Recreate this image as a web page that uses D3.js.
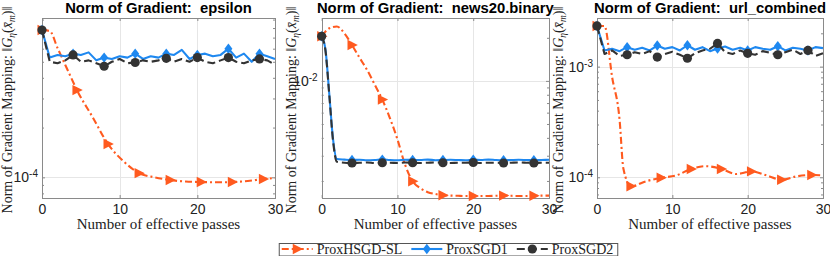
<!DOCTYPE html>
<html><head><meta charset="utf-8">
<script src="https://cdn.jsdelivr.net/npm/d3@7"></script>
<style>body{margin:0;background:#fff}svg{display:block}</style>
</head><body>
<svg id="c" width="830" height="256"></svg>
<script>
// ---------------- data ----------------
const seriesNames = ["ProxHSGD-SL", "ProxSGD1", "ProxSGD2"];
const datasetNames = ["epsilon", "news20.binary", "url_combined"];
const xTicks = [0, 10, 20, 30];

const sgdPasses = [0,1,2,3,4,5,6,7,8,9,10,11,12,13,14,15,16,17,18,19,20,21,22,23,24,25,26,27,28,29,30];
const news20SgdPasses = [0,0.5,1,1.5,2,3,4,5,6,7,8,9,10,11,12,13,14,15,16,17,18,19,20,21,22,23,24,25,26,27,28,29,30];
const hsgdPasses = [0,1,2,3,3.5,4.5,6.5,8.5,10.5,12.5,14.5,16.5,18.5,20.5,22.5,24.5,26.5,28.5,30];
const hsgdMarkPasses = [0,4.5,8.5,12.5,16.5,20.5,24.5,28.5];
const sgdMarkPasses = [0,4,8,12,16,20,24,28];

// epsilon
const epsHsgd = [7.78e-4,7.67e-4,6.06e-4,4.78e-4,4.25e-4,3.37e-4,2.32e-4,1.59e-4,1.25e-4,1.06e-4,1.0e-4,9.63e-5,9.43e-5,9.37e-5,9.33e-5,9.37e-5,9.5e-5,9.77e-5,9.9e-5];
const epsSgd1 = [7.78e-4,5.3e-4,5.5e-4,5.4e-4,5.6e-4,5.5e-4,5.7e-4,5.1e-4,5.3e-4,5.2e-4,5.4e-4,5.3e-4,5.6e-4,5.2e-4,5.4e-4,5.3e-4,5.6e-4,5.5e-4,5.9e-4,5.2e-4,5.5e-4,5.6e-4,5.4e-4,5.5e-4,6.0e-4,5.3e-4,5.6e-4,5.0e-4,5.6e-4,5.4e-4,5.2e-4];
const epsSgd2 = [7.78e-4,5.0e-4,4.9e-4,5.1e-4,5.5e-4,5.0e-4,5.1e-4,4.9e-4,4.7e-4,5.0e-4,5.2e-4,4.9e-4,4.95e-4,5.1e-4,5.0e-4,5.1e-4,5.25e-4,5.0e-4,5.2e-4,5.0e-4,5.3e-4,5.0e-4,4.9e-4,5.1e-4,5.3e-4,5.0e-4,4.9e-4,5.1e-4,5.2e-4,5.1e-4,4.8e-4];

// news20.binary
const news20Hsgd = [2.05e-2,2.33e-2,2.4e-2,2.15e-2,1.78e-2,1.45e-2,1.19e-2,9.4e-3,7.4e-3,5.5e-3,3.9e-3,2.6e-3,1.99e-3,1.78e-3,1.67e-3,1.62e-3,1.59e-3,1.58e-3,1.575e-3,1.57e-3,1.57e-3,1.57e-3,1.57e-3,1.575e-3,1.58e-3,1.575e-3,1.57e-3,1.57e-3,1.575e-3,1.58e-3,1.58e-3];
const news20Sgd1 = [2.05e-2,1.65e-2,8.1e-3,3.9e-3,2.85e-3,
  2.82e-3,2.80e-3,2.81e-3,2.79e-3,2.80e-3,2.82e-3,2.80e-3,2.79e-3,2.81e-3,2.80e-3,
  2.80e-3,2.82e-3,2.79e-3,2.80e-3,2.81e-3,2.80e-3,2.79e-3,2.81e-3,2.80e-3,2.82e-3,
  2.80e-3,2.79e-3,2.80e-3,2.81e-3,2.80e-3,2.79e-3,2.80e-3,2.81e-3];
const news20Sgd2 = [2.05e-2,1.62e-2,8.0e-3,3.8e-3,2.72e-3,
  2.68e-3,2.67e-3,2.68e-3,2.69e-3,2.67e-3,2.68e-3,2.68e-3,2.67e-3,2.69e-3,2.68e-3,
  2.67e-3,2.68e-3,2.69e-3,2.68e-3,2.67e-3,2.68e-3,2.68e-3,2.69e-3,2.67e-3,2.68e-3,
  2.68e-3,2.67e-3,2.68e-3,2.69e-3,2.68e-3,2.67e-3,2.68e-3,2.68e-3];

// url_combined
const urlHsgd = [2.33e-3,2.33e-3,8.1e-4,3.3e-4,1.2e-4,8.3e-5,9.2e-5,9.9e-5,1.04e-4,1.19e-4,1.26e-4,1.19e-4,1.07e-4,1.13e-4,1.04e-4,9.5e-5,1.02e-4,1.05e-4,1.04e-4];
const urlSgd1 = [2.33e-3,1.40e-3,1.45e-3,1.38e-3,1.50e-3,1.42e-3,1.48e-3,1.40e-3,1.55e-3,1.45e-3,1.50e-3,1.40e-3,1.56e-3,1.42e-3,1.50e-3,1.38e-3,1.46e-3,1.52e-3,1.42e-3,1.48e-3,1.40e-3,1.50e-3,1.45e-3,1.42e-3,1.53e-3,1.40e-3,1.48e-3,1.45e-3,1.40e-3,1.50e-3,1.47e-3];
const urlSgd2 = [2.33e-3,1.30e-3,1.40e-3,1.25e-3,1.28e-3,1.35e-3,1.30e-3,1.38e-3,1.22e-3,1.30e-3,1.36e-3,1.28e-3,1.19e-3,1.32e-3,1.40e-3,1.45e-3,1.62e-3,1.35e-3,1.30e-3,1.40e-3,1.32e-3,1.28e-3,1.38e-3,1.33e-3,1.28e-3,1.35e-3,1.42e-3,1.30e-3,1.40e-3,1.25e-3,1.32e-3];

const yLimits = [[7.5e-5, 9.2e-4], [1.52e-3, 2.75e-2], [6.5e-5, 2.75e-3]];
const yMajorTicks = [[1e-4], [1e-2], [1e-3, 1e-4]];

// ---------------- style / layout ----------------
const colors = ["#FF5A1F", "#1E88F0", "#333333"];
const dashes = ["7,3,2,3", null, "8,4"];
const axColor = "#8a8a8a", gridColor = "#e6e6e6", textColor = "#222";
const plotTop = 18, plotBottom = 198;
const panelX = [[42, 275], [321.7, 549], [597, 823]];
const ylabX = [12, 296, 563];
const sans = "'Liberation Sans', Arial, Helvetica, sans-serif";
const serif = "'Liberation Serif', 'Times New Roman', serif";

const panels = [
  { s: [[hsgdPasses, epsHsgd, hsgdMarkPasses], [sgdPasses, epsSgd1, sgdMarkPasses], [sgdPasses, epsSgd2, sgdMarkPasses]], smooth: [true, false, false] },
  { s: [[sgdPasses, news20Hsgd, sgdMarkPasses], [news20SgdPasses, news20Sgd1, sgdMarkPasses], [news20SgdPasses, news20Sgd2, sgdMarkPasses]], smooth: [true, true, true] },
  { s: [[hsgdPasses, urlHsgd, hsgdMarkPasses], [sgdPasses, urlSgd1, sgdMarkPasses], [sgdPasses, urlSgd2, sgdMarkPasses]], smooth: [true, false, false] }
];

const svg = d3.select("#c");

function drawMarker(sel, k) {
  if (k === 0) sel.append("path").attr("d", "M-4.5,-5.2L5.8,0L-4.5,5.2Z").attr("fill", colors[0]);
  else if (k === 1) sel.append("path").attr("d", "M0,-5.2L4,0L0,5.2L-4,0Z").attr("fill", colors[1]);
  else sel.append("circle").attr("r", 4.6).attr("fill", colors[2]);
}

function minorTicks(dom) {
  const out = [];
  const lo = Math.floor(Math.log10(dom[0])), hi = Math.ceil(Math.log10(dom[1]));
  for (let e = lo; e <= hi; e++) for (let m = 2; m <= 9; m++) {
    const v = m * Math.pow(10, e);
    if (v >= dom[0] && v <= dom[1]) out.push(v);
  }
  return out;
}

panels.forEach((p, i) => {
  const [xa, xb] = panelX[i];
  const x = d3.scaleLinear().domain([0, 30]).range([xa, xb]);
  const y = d3.scaleLog().domain(yLimits[i]).range([plotBottom, plotTop]);
  const g = svg.append("g");

  // grid
  g.selectAll(null).data(xTicks.filter(t => t > 0 && t < 30)).join("line")
    .attr("x1", d => Math.round(x(d)) + 0.5).attr("x2", d => Math.round(x(d)) + 0.5)
    .attr("y1", plotTop).attr("y2", plotBottom).attr("stroke", gridColor);
  g.selectAll(null).data(yMajorTicks[i]).join("line")
    .attr("x1", xa).attr("x2", xb)
    .attr("y1", d => Math.round(y(d)) + 0.5).attr("y2", d => Math.round(y(d)) + 0.5).attr("stroke", gridColor);

  // axes
  const styleAxis = (a) => {
    a.select(".domain").remove();
    a.selectAll(".tick line").attr("stroke", axColor);
    a.selectAll("text").attr("fill", textColor).style("font-family", sans).style("font-size", "14px");
  };
  g.append("g").attr("transform", `translate(0,${plotBottom})`)
    .call(d3.axisBottom(x).tickValues(xTicks).tickSize(-3).tickPadding(6).tickFormat(d3.format("d"))).call(styleAxis);
  g.append("g").attr("transform", `translate(0,${plotTop})`)
    .call(d3.axisTop(x).tickValues(xTicks).tickSize(-3).tickFormat("")).call(styleAxis);

  const yl = g.append("g").attr("transform", `translate(${xa},0)`)
    .call(d3.axisLeft(y).tickValues(yMajorTicks[i]).tickSize(-3).tickPadding(4).tickFormat(() => "10")).call(styleAxis);
  yl.selectAll(".tick text").each(function (d) {
    d3.select(this).append("tspan").attr("dy", "-0.5em").style("font-size", "10px").text(String(Math.round(Math.log10(d))));
  });
  g.append("g").attr("transform", `translate(${xa},0)`)
    .call(d3.axisLeft(y).tickValues(minorTicks(yLimits[i])).tickSize(-2).tickFormat("")).call(styleAxis);
  g.append("g").attr("transform", `translate(${xb},0)`)
    .call(d3.axisRight(y).tickValues(yMajorTicks[i]).tickSize(-3).tickFormat("")).call(styleAxis);
  g.append("g").attr("transform", `translate(${xb},0)`)
    .call(d3.axisRight(y).tickValues(minorTicks(yLimits[i])).tickSize(-2).tickFormat("")).call(styleAxis);

  // box
  g.append("rect").attr("x", Math.round(xa) + 0.5).attr("y", plotTop + 0.5)
    .attr("width", Math.round(xb - xa)).attr("height", plotBottom - plotTop)
    .attr("fill", "none").attr("stroke", axColor);

  // series
  p.s.forEach((ser, k) => {
    const [xs, ys, marks] = ser;
    const pts = xs.map((v, j) => [v, ys[j]]);
    const line = d3.line().x(d => x(d[0])).y(d => y(d[1]))
      .curve(p.smooth[k] ? d3.curveMonotoneX : d3.curveLinear);
    g.append("path").attr("d", line(pts)).attr("fill", "none")
      .attr("stroke", colors[k]).attr("stroke-width", 2.1)
      .attr("stroke-dasharray", dashes[k]).attr("stroke-linejoin", "round");
    pts.filter(d => marks.includes(d[0])).forEach(d => {
      const mg = g.append("g").attr("transform", `translate(${x(d[0])},${y(d[1])})`);
      drawMarker(mg, k);
    });
  });

  // title
  svg.append("text").attr("x", (xa + xb) / 2).attr("y", 13).attr("text-anchor", "middle")
    .style("font-family", sans).style("font-weight", "bold").style("font-size", "14.8px")
    .attr("fill", "#000").style("white-space", "pre")
    .text("Norm of Gradient:  " + datasetNames[i]);

  // x label
  svg.append("text").attr("x", (xa + xb) / 2).attr("y", 229).attr("text-anchor", "middle")
    .style("font-family", serif).style("font-size", "15px").attr("fill", textColor)
    .text("Number of effective passes");

  // y label
  const t = svg.append("text")
    .attr("transform", `translate(${ylabX[i]},${(plotTop + plotBottom) / 2 + 2}) rotate(-90)`)
    .attr("text-anchor", "middle").style("font-family", serif).style("font-size", "14px")
    .attr("fill", textColor).style("white-space", "pre");
  t.append("tspan").text("Norm of Gradient Mapping: \u2016");
  t.append("tspan").style("font-style", "italic").text("G");
  t.append("tspan").attr("dy", 3).style("font-size", "9.5px").style("font-style", "italic").text("\u03B7");
  t.append("tspan").attr("dy", -3).text("(");
  t.append("tspan").style("font-style", "italic").text("x\u0304");
  t.append("tspan").attr("dy", 3).style("font-size", "9.5px").style("font-style", "italic").text("m");
  t.append("tspan").attr("dy", -3).text(")\u2016");
});

// ---------------- legend ----------------
const leg = svg.append("g");
const box = leg.append("rect").attr("fill", "#fff").attr("stroke", "#555");
let cx = 0;
seriesNames.forEach((name, k) => {
  const it = leg.append("g");
  const lx0 = cx + 3, lx1 = cx + 34;
  it.append("line").attr("x1", lx0).attr("x2", lx1).attr("y1", 0).attr("y2", 0)
    .attr("stroke", colors[k]).attr("stroke-width", 2.1).attr("stroke-dasharray", dashes[k]);
  drawMarker(it.append("g").attr("transform", `translate(${(lx0 + lx1) / 2},0)`), k);
  const tx = it.append("text").attr("x", lx1 + 4).attr("y", 4.5)
    .style("font-family", serif).style("font-size", "14px").attr("fill", textColor).text(name);
  cx = lx1 + 4 + tx.node().getComputedTextLength() + 6;
});
const legW = cx - 2, legCx = 448, legY = 249;
leg.attr("transform", `translate(${legCx - legW / 2},${legY})`);
box.attr("x", 0.5).attr("y", -5.5).attr("width", legW).attr("height", 12.5);
</script>
</body></html>
